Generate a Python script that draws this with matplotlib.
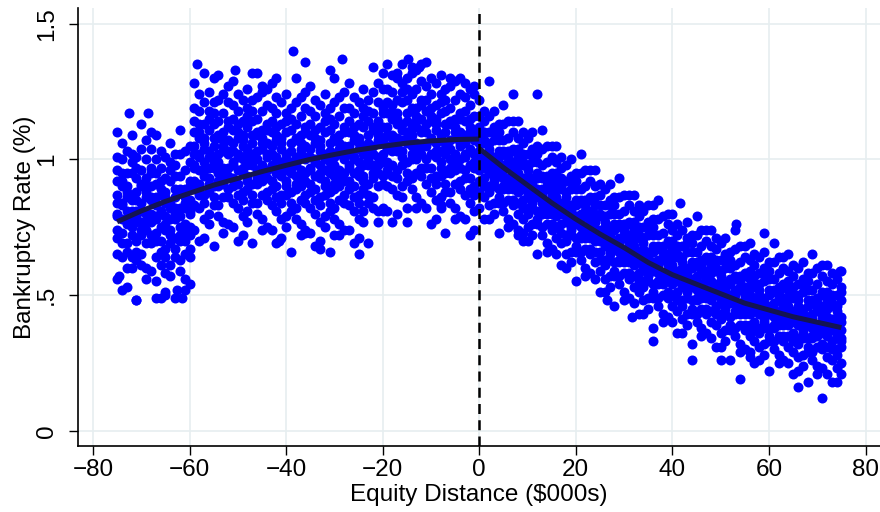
import matplotlib.pyplot as plt

# bankruptcy rate by equity distance
# each row: "equity distance ($000s): rates in hundredths of a percent"
left_rows = [
    "-75: 56 65 71 74 79 80 84 87 92 96 101 110",
    "-74: 52 64 69 73 78 83 84 90 92 95 100 106",
    "-73: 53 60 66 69 76 78 81 86 88 90 95 103",
    "-72: 60 64 72 75 77 81 85 87 95 99 102 109",
    "-71: 48 63 66 70 77 79 81 85 88 93 97 101",
    "-70: 61 65 72 74 77 81 84 90 91 96 104 113",
    "-69: 56 60 69 74 77 80 86 88 90 93 100 107",
    "-68: 59 69 72 77 80 85 86 90 95 97 104 110",
    "-67: 55 64 70 73 78 79 83 86 91 95 100 109",
    "-66: 49 61 66 70 75 80 81 87 89 92 97 103",
    "-65: 51 58 64 67 74 76 79 84 86 88 93 101",
    "-64: 57 61 69 72 74 78 82 84 92 96 99 106",
    "-63: 49 64 67 71 78 80 82 86 89 94 98 102",
    "-62: 59 63 70 72 75 79 82 88 89 94 102 111",
    "-61: 52 56 65 70 73 76 82 84 86 89 96 103",
    "-60: 54 64 67 72 75 80 81 85 90 92 99 105",
    "-59: 74 83 89 92 97 98 102 105 110 114 119 128",
    "-58: 70 82 87 91 96 101 102 108 110 113 118 124",
    "-57: 71 78 84 87 94 96 99 104 106 108 113 121",
    "-56: 76 80 88 91 93 97 101 103 111 115 118 125",
    "-55: 68 83 86 90 97 99 101 105 108 113 117 121",
    "-54: 79 83 90 92 95 99 102 108 109 114 122 131",
    "-53: 73 77 86 91 94 97 103 105 107 110 117 124",
    "-52: 76 86 89 94 97 102 103 107 112 114 121 127",
    "-51: 75 84 90 93 98 99 103 106 111 115 120 129",
    "-50: 70 82 87 91 96 101 102 108 110 113 118 124",
    "-49: 72 79 85 88 95 97 100 105 107 109 114 122",
    "-48: 77 81 89 92 94 98 102 104 112 116 119 126",
    "-47: 69 84 87 91 98 100 102 106 109 114 118 122",
    "-46: 80 84 91 93 96 100 103 109 110 115 123 132",
    "-45: 74 78 87 92 95 98 104 106 108 111 118 125",
    "-44: 75 85 88 93 96 101 102 106 111 113 120 126",
    "-43: 74 83 89 92 97 98 102 105 110 114 119 128",
    "-42: 69 81 86 90 95 100 101 107 109 112 117 123",
    "-41: 71 78 84 87 94 96 99 104 106 108 113 121",
    "-40: 75 79 87 90 92 96 100 102 110 114 117 124",
    "-39: 66 81 84 88 95 97 99 103 106 111 115 119",
    "-38: 78 82 89 91 94 98 101 107 108 113 121 130",
    "-37: 72 76 85 90 93 96 102 104 106 109 116 123",
    "-36: 74 84 87 92 95 100 101 105 110 112 119 125",
    "-35: 73 82 88 91 96 97 101 104 109 113 118 127",
    "-34: 68 80 85 89 94 99 100 106 108 111 116 122",
    "-33: 70 77 83 86 93 95 98 103 105 107 112 120",
    "-32: 75 79 87 90 92 96 100 102 110 114 117 124",
    "-31: 66 81 84 88 95 97 99 103 106 111 115 119",
    "-30: 78 82 89 91 94 98 101 107 108 113 121 130",
    "-29: 72 76 85 90 93 96 102 104 106 109 116 123",
    "-28: 74 84 87 92 95 100 101 105 110 112 119 125",
    "-27: 74 83 89 92 97 98 102 105 110 114 119 128",
    "-26: 69 81 86 90 95 100 101 107 109 112 117 123",
    "-25: 71 78 84 87 94 96 99 104 106 108 113 121",
    "-24: 77 81 89 92 94 98 102 104 112 116 119 126",
    "-23: 69 84 87 91 98 100 102 106 109 114 118 122",
    "-22: 82 86 93 95 98 102 105 111 112 117 125 134",
    "-21: 77 81 90 95 98 101 107 109 111 114 121 128",
    "-20: 81 91 94 99 102 107 108 112 117 119 126 132",
    "-19: 81 90 96 99 104 105 109 112 117 121 126 135",
    "-18: 77 89 94 98 103 108 109 115 117 120 125 131",
    "-17: 80 87 93 96 103 105 108 113 115 117 122 130",
    "-16: 86 90 98 101 103 107 111 113 121 125 128 135",
    "-15: 77 92 95 99 106 108 110 114 117 122 126 130",
    "-14: 89 93 100 102 105 109 112 118 119 124 132 134",
    "-13: 82 86 95 100 103 106 112 114 116 119 126 133",
    "-12: 84 94 97 102 105 110 111 115 120 122 129 135",
    "-11: 82 91 97 100 105 106 110 113 118 122 127 136",
    "-10: 76 88 93 97 102 107 108 114 116 119 124 130",
    "-9: 78 85 91 94 101 103 106 111 113 115 120 128",
    "-8: 82 86 94 97 99 103 107 109 117 121 124 131",
    "-7: 73 88 91 95 102 104 106 110 113 118 122 126",
    "-6: 84 88 95 97 100 104 107 113 114 119 127 130",
    "-5: 78 82 91 96 99 102 108 110 112 115 122 129",
    "-4: 79 89 92 97 100 105 106 110 115 117 124 130",
    "-3: 78 87 93 96 101 102 106 109 114 118 123 128",
    "-2: 72 84 89 93 98 103 104 110 112 115 120 126",
    "-1: 74 81 87 90 97 99 102 107 109 111 116 124",
]

right_rows = [
    "0: 82 88 92 96 99 100 103 106 109 112 116 122",
    "1: 78 86 90 93 97 100 101 106 107 110 114 118",
    "2: 78 83 88 90 95 97 99 102 104 106 110 116",
    "3: 80 84 90 92 93 96 99 101 107 110 112 118",
    "4: 73 84 86 89 94 96 97 101 103 107 110 113",
    "5: 81 84 89 90 93 96 98 102 103 107 113 120",
    "6: 75 78 85 89 91 93 98 99 101 103 108 114",
    "7: 76 83 85 89 92 95 96 99 103 104 110 114",
    "8: 74 80 84 88 91 92 95 98 101 104 108 114",
    "9: 70 78 82 85 89 92 93 98 99 102 106 110",
    "10: 70 75 80 82 87 89 91 94 96 98 102 108",
    "11: 72 76 82 84 85 88 91 93 99 102 104 110",
    "12: 65 76 78 81 86 88 89 93 95 99 102 105",
    "13: 72 75 80 81 84 87 89 93 94 98 104 111",
    "14: 66 69 76 80 82 84 89 90 92 94 99 105",
    "15: 67 74 76 80 83 86 87 90 94 95 101 105",
    "16: 65 71 75 79 82 83 86 89 92 95 99 105",
    "17: 61 69 73 76 80 83 84 89 90 93 97 101",
    "18: 60 65 70 72 77 79 81 84 86 88 92 98",
    "19: 62 66 72 74 75 78 81 83 89 92 94 100",
    "20: 55 66 68 71 76 78 79 83 85 89 92 95",
    "21: 63 66 71 72 75 78 80 84 85 89 95 102",
    "22: 57 60 67 71 73 75 80 81 83 85 90 96",
    "23: 58 65 67 71 74 77 78 81 85 86 92 96",
    "24: 56 62 66 70 73 74 77 80 83 86 90 96",
    "25: 51 59 63 66 70 73 74 79 80 83 87 91",
    "26: 51 56 61 63 68 70 72 75 77 79 83 89",
    "27: 53 57 63 65 66 69 72 74 80 83 85 91",
    "28: 46 57 59 62 67 69 70 74 76 80 83 86",
    "29: 54 57 62 63 66 69 71 75 76 80 86 93",
    "30: 48 51 58 62 64 66 71 72 74 76 81 87",
    "31: 49 56 58 62 65 68 69 72 76 77 83 87",
    "32: 47 53 57 61 64 65 68 71 74 77 81 87",
    "33: 43 51 55 58 62 65 66 71 72 75 79 83",
    "34: 43 48 53 55 60 62 64 67 69 71 75 81",
    "35: 45 49 55 57 58 61 64 66 72 75 77 83",
    "36: 38 49 51 54 59 61 62 66 68 72 75 78",
    "37: 46 49 54 55 58 61 63 67 68 72 78 85",
    "38: 40 43 50 54 56 58 63 64 66 68 73 79",
    "39: 42 49 51 55 58 61 62 65 69 70 76 80",
    "40: 40 46 50 54 57 58 61 64 67 70 74 80",
    "41: 36 44 48 51 55 58 59 64 65 68 72 76",
    "42: 36 41 46 48 53 55 57 60 62 64 68 74",
    "43: 39 43 49 51 52 55 58 60 66 69 71 77",
    "44: 32 43 45 48 53 55 56 60 62 66 69 72",
    "45: 40 43 48 49 52 55 57 61 62 66 72 79",
    "46: 35 38 45 49 51 53 58 59 61 63 68 74",
    "47: 36 43 45 49 52 55 56 59 63 64 70 74",
    "48: 34 40 44 48 51 52 55 58 61 64 68 74",
    "49: 31 39 43 46 50 53 54 59 60 63 67 71",
    "50: 31 36 41 43 48 50 52 55 57 59 63 69",
    "51: 33 37 43 45 46 49 52 54 60 63 65 71",
    "52: 26 37 39 42 47 49 50 54 56 60 63 66",
    "53: 35 38 43 44 47 50 52 56 57 61 67 74",
    "54: 29 32 39 43 45 47 52 53 55 57 62 68",
    "55: 30 37 39 43 46 49 50 53 57 58 64 68",
    "56: 29 35 39 43 46 47 50 53 56 59 63 69",
    "57: 25 33 37 40 44 47 48 53 54 57 61 65",
    "58: 26 31 36 38 43 45 47 50 52 54 58 64",
    "59: 28 32 38 40 41 44 47 49 55 58 60 66",
    "60: 22 33 35 38 43 45 46 50 52 56 59 62",
    "61: 30 33 38 39 42 45 47 51 52 56 62 69",
    "62: 25 28 35 39 41 43 48 49 51 53 58 64",
    "63: 26 33 35 39 42 45 46 49 53 54 60 64",
    "64: 25 31 35 39 42 43 46 49 52 55 59 65",
    "65: 21 29 33 36 40 43 44 49 50 53 57 61",
    "66: 22 27 32 34 39 41 43 46 48 50 54 60",
    "67: 24 28 34 36 37 40 43 45 51 54 56 62",
    "68: 18 29 31 34 39 41 42 46 48 52 55 58",
    "69: 26 29 34 35 38 41 43 47 48 52 58 65",
    "70: 21 24 31 35 37 39 44 45 47 49 54 60",
    "71: 23 30 32 36 39 42 43 46 50 51 57 61",
    "72: 21 27 31 35 38 39 42 45 48 51 55 61",
    "73: 18 26 30 33 37 40 41 46 47 50 54 58",
    "74: 18 23 28 30 35 37 39 42 44 46 50 56",
    "75: 21 25 31 33 34 37 40 42 48 51 53 59",
]

# stray points outside the main band
extra_x = [-72.5, -68.5, -71, -67, -65, -61.5, -74.5, -62.5, -58.5, -57, -55, -50.5,
           -47, -45, -38.5, -36, -28.5, -31, -42, -41.5, -33, -25, -36, -30,
           -14.8, -12.5, -17, -20, -15, -8, 2, -1, 7, 12, 8, 9,
           26.5, 31.7, 36, 36, 41.5, 53.2, 59, 54, 66, 71, 74.7, 50, 44, 56]
extra_y = [1.17, 1.17, 0.48, 0.49, 0.50, 0.49, 0.57, 0.52, 1.35, 1.32, 1.30, 1.33,
           1.32, 1.27, 1.40, 1.36, 1.37, 1.33, 1.30, 0.70, 0.67, 0.65, 0.73, 0.72,
           1.37, 1.34, 1.32, 0.82, 0.82, 0.83, 1.29, 1.27, 1.24, 1.24, 0.72, 0.73,
           0.48, 0.42, 0.33, 0.83, 0.84, 0.76, 0.73, 0.19, 0.16, 0.12, 0.59, 0.26, 0.26, 0.27]

# fitted curves on each side of the cutoff
fit_left_x = [-75, -70, -65, -60, -55, -50, -45, -40, -35, -30, -25, -20, -15, -10, -5, 0]
fit_left_y = [0.77, 0.81, 0.845, 0.875, 0.905, 0.93, 0.955, 0.978, 1.00, 1.018,
              1.035, 1.048, 1.06, 1.068, 1.073, 1.075]
fit_right_x = [0, 5, 10, 15, 20, 25, 30, 35, 40, 45, 50, 55, 60, 65, 70, 75]
fit_right_y = [1.04, 0.97, 0.905, 0.84, 0.78, 0.725, 0.675, 0.62, 0.575, 0.54,
               0.505, 0.47, 0.445, 0.42, 0.40, 0.38]

x_ticks = [-80, -60, -40, -20, 0, 20, 40, 60, 80]
y_ticks = [0, 0.5, 1, 1.5]
y_tick_labels = ['0', '.5', '1', '1.5']


def parse_rows(rows):
    xs, ys = [], []
    for row in rows:
        key, vals = row.split(':')
        for v in vals.split():
            xs.append(float(key))
            ys.append(int(v) / 100)
    return xs, ys


plt.rcParams['font.family'] = ['Liberation Sans', 'DejaVu Sans']

lx, ly = parse_rows(left_rows)
rx, ry = parse_rows(right_rows)

fig = plt.figure(figsize=(8.8, 5.12), dpi=100)
ax = fig.add_axes([0.0886, 0.129, 0.9114, 0.855])

ax.scatter(lx + rx + extra_x, ly + ry + extra_y, s=52, color='#0000ff',
           linewidths=0, zorder=3)
ax.plot(fit_left_x, fit_left_y, color='#141452', linewidth=3.6,
        solid_capstyle='butt', zorder=4)
ax.plot(fit_right_x, fit_right_y, color='#141452', linewidth=3.6,
        solid_capstyle='butt', zorder=4)
ax.axvline(0, color='black', linewidth=1.8, linestyle=(0, (4, 2.5)), zorder=5)

ax.set_xlim(-83.1, 83.0)
ax.set_ylim(-0.056, 1.557)
ax.set_xticks(x_ticks)
ax.set_yticks(y_ticks)
ax.set_yticklabels(y_tick_labels, rotation=90, va='center')
ax.grid(True, color='#e6eef0', linewidth=1.2, zorder=0)
ax.set_axisbelow(True)

for side in ['top', 'right']:
    ax.spines[side].set_visible(False)
ax.spines['left'].set_linewidth(1.2)
ax.spines['bottom'].set_linewidth(1.2)
ax.tick_params(axis='both', length=6.5, width=1, labelsize=17.5, color='black')
ax.tick_params(axis='x', pad=3)
ax.tick_params(axis='y', pad=8)

ax.set_xlabel('Equity Distance ($000s)', fontsize=17.5, labelpad=2)
ax.set_ylabel('Bankruptcy Rate (%)', fontsize=17.5, labelpad=0)

fig.savefig('out.png', dpi=100)
